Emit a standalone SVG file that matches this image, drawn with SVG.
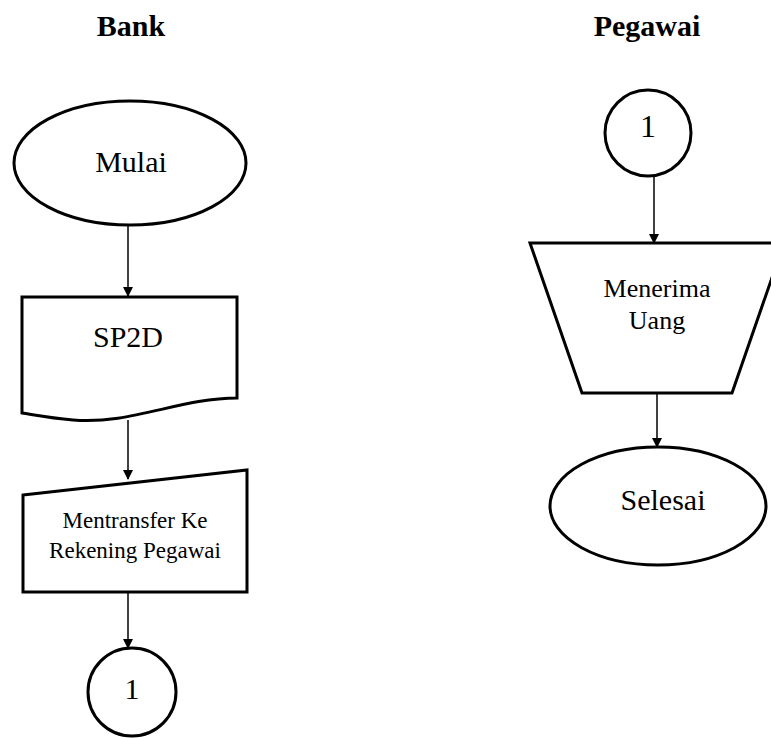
<svg xmlns="http://www.w3.org/2000/svg" width="771" height="738" viewBox="0 0 771 738">
<defs>
<marker id="ah" markerWidth="10" markerHeight="10" refX="9" refY="5" orient="auto" markerUnits="userSpaceOnUse">
<path d="M0,0 L10,5 L0,10 Z" fill="#000"/>
</marker>
</defs>
<style>
.s{fill:#fff;stroke:#000;stroke-width:3}
text{font-family:'Liberation Serif','Times New Roman',serif;fill:#000;text-anchor:middle}
.c{stroke:#000;stroke-width:1.5;fill:none;marker-end:url(#ah)}
.h{font-weight:bold}
</style>
<rect width="771" height="738" fill="#fff"/>
<text class="h" x="131" y="36" font-size="30" font-family="Liberation Serif, serif">Bank</text>
<text class="h" x="647" y="36" font-size="30" font-family="Liberation Serif, serif">Pegawai</text>
<g id="connectors">
<line class="c" x1="128" y1="226" x2="128" y2="296"/>
<line class="c" x1="128" y1="420" x2="128" y2="479"/>
<line class="c" x1="128" y1="593" x2="128" y2="648"/>
<line class="c" x1="654" y1="176" x2="654" y2="243"/>
<line class="c" x1="657" y1="394" x2="657" y2="447"/>
</g>
<g id="mulai">
<ellipse class="s" cx="130" cy="163" rx="116" ry="62"/>
<text x="131" y="172" font-size="30" font-family="Liberation Serif, serif">Mulai</text>
</g>
<g id="sp2d">
<path class="s" d="M22,297 L237,297 L237,398 C180,398 130,425 73,420 C50,418 35,415 22,413 Z"/>
<text x="128" y="347" font-size="30" font-family="Liberation Serif, serif">SP2D</text>
</g>
<g id="mentransfer">
<path class="s" d="M23,495 L247,470 L247,592 L23,592 Z"/>
<text x="135" y="528" font-size="23" font-family="Liberation Serif, serif">Mentransfer Ke</text>
<text x="135" y="558" font-size="23" font-family="Liberation Serif, serif">Rekening Pegawai</text>
</g>
<g id="conn1-bank">
<circle class="s" cx="132" cy="692" r="44"/>
<text x="132" y="699" font-size="30" font-family="Liberation Serif, serif">1</text>
</g>
<g id="conn1-pegawai">
<circle class="s" cx="648" cy="133" r="43"/>
<text x="648" y="137" font-size="32" font-family="Liberation Serif, serif">1</text>
</g>
<g id="menerima">
<path class="s" d="M530,243 L784,243 L732,393 L582,393 Z"/>
<text x="657" y="297" font-size="26" font-family="Liberation Serif, serif">Menerima</text>
<text x="657" y="329" font-size="26" font-family="Liberation Serif, serif">Uang</text>
</g>
<g id="selesai">
<ellipse class="s" cx="658" cy="506" rx="108" ry="59"/>
<text x="663" y="510" font-size="30" font-family="Liberation Serif, serif">Selesai</text>
</g>
</svg>
